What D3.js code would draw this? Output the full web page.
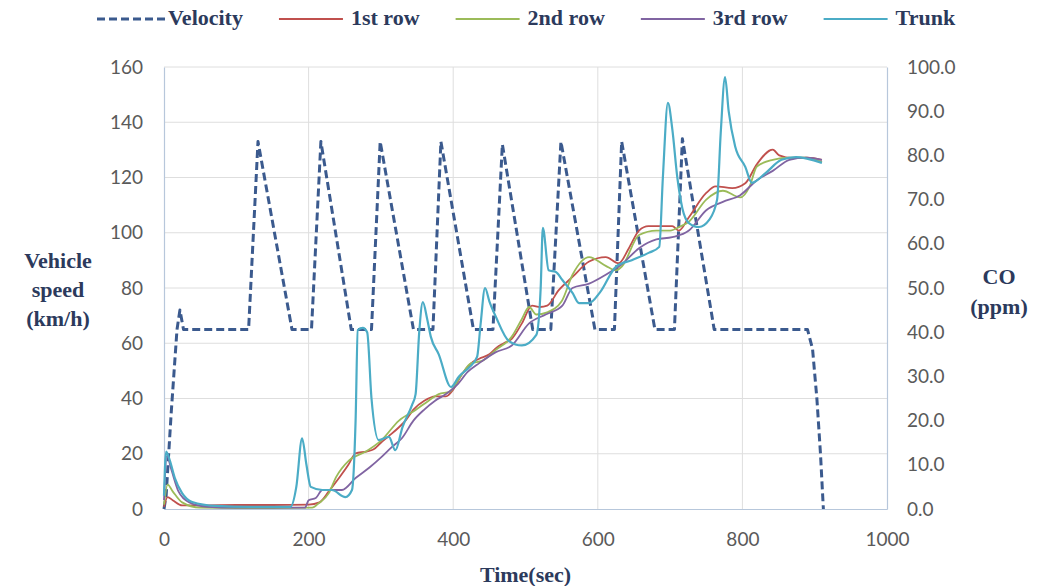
<!DOCTYPE html>
<html>
<head>
<meta charset="utf-8">
<script src="https://cdn.jsdelivr.net/npm/d3@7"></script>
<style>
    body { margin: 0; background: #fff; }
    .tick text { font-family: Lato, "Open Sans", sans-serif; font-size: 19px; fill: #5a5a5a; }
    .title { font-family: "Liberation Serif", "Times New Roman", serif; font-weight: bold; font-size: 22px; fill: #2c3a5c; }
</style>
</head>
<body>
<svg id="chart"></svg>
<script>
const timeTicks = [0, 200, 400, 600, 800, 1000];
const speedTicks = [0, 20, 40, 60, 80, 100, 120, 140, 160];
const coTicks = [0, 10, 20, 30, 40, 50, 60, 70, 80, 90, 100];

// [time (sec), vehicle speed (km/h)]
const velocity = [
    [0, 0], [3, 5], [10, 35], [18, 65], [22, 72], [27, 65], [117, 65], [130, 133], [177, 65],
    [204, 65], [217, 133], [259, 65], [287, 65], [299, 133], [345, 65], [372, 65], [383, 133],
    [428, 65], [455, 65], [468, 132], [510, 65], [535, 65], [549, 133], [596, 65], [623, 65],
    [633, 133], [679, 65], [706, 65], [717, 134], [761, 65], [890, 65], [897, 58], [903, 40],
    [908, 20], [912, 0]
];

// [time (sec), CO (ppm)]
const row1 = [
    [0, 0.5], [5, 2.7], [12, 2], [25, 0.8], [50, 0.8], [100, 0.9], [150, 0.9], [200, 1], [215, 1.5],
    [228, 4], [242, 7], [255, 10], [265, 12.6], [280, 13], [290, 13.5], [300, 15], [311, 16.5],
    [325, 18.5], [334, 20], [345, 22.5], [360, 24.5], [375, 25.5], [390, 25.5], [400, 27],
    [412, 30.5], [425, 33], [436, 34], [450, 35], [460, 36.5], [470, 37.5], [481, 38.5], [495, 42],
    [509, 46], [520, 45.7], [530, 46], [546, 49.5], [565, 52.5], [588, 56], [611, 57], [629, 55.6],
    [643, 59], [657, 63], [670, 64], [690, 64], [703, 64], [712, 63], [726, 66], [750, 71.5],
    [763, 73], [786, 72.6], [804, 73.7], [820, 78], [842, 81.3], [851, 80], [869, 79.4], [890, 79.5],
    [910, 79]
];

const row2 = [
    [0, 1], [5, 5.5], [12, 4], [25, 1.5], [50, 0.3], [100, 0.2], [150, 0.2], [205, 0.3], [214, 1.3],
    [228, 3.6], [238, 7.2], [256, 11], [279, 13], [301, 15.6], [325, 20], [348, 22.4], [366, 24.5],
    [380, 26], [395, 26.5], [410, 30], [425, 33], [440, 33.5], [459, 36], [481, 39], [495, 43],
    [505, 45.7], [515, 44], [530, 44.5], [550, 47], [565, 53], [588, 57], [611, 55], [625, 54],
    [634, 55], [657, 62], [681, 63], [700, 63], [715, 64], [726, 65], [750, 70], [773, 72],
    [797, 70.5], [810, 73], [820, 77.5], [842, 79], [865, 79.5], [888, 79.5], [910, 78.5]
];

const row3 = [
    [0, 2], [4, 12], [10, 9], [20, 4], [35, 1.5], [60, 0.5], [100, 0.3], [150, 0.3], [195, 0.3],
    [200, 2], [210, 2.5], [219, 4.3], [246, 4.3], [265, 7], [285, 9.5], [301, 11.8], [315, 14],
    [329, 16], [345, 20], [360, 22.5], [375, 24.5], [390, 26], [405, 28], [420, 31], [436, 33],
    [459, 35.5], [481, 37], [505, 42], [528, 44], [551, 46], [565, 50], [588, 51], [611, 53],
    [634, 55.5], [657, 59], [681, 61], [703, 61.5], [726, 63], [750, 67.6], [773, 69.5], [797, 71],
    [820, 74.4], [842, 76.5], [865, 79], [888, 79.5], [910, 79]
];

const trunk = [
    [0, 3], [3, 13], [8, 11], [15, 7], [25, 3.6], [39, 1.6], [72, 0.7], [120, 0.5], [175, 0.5],
    [183, 5], [191, 16], [197, 10], [203, 5], [219, 4.3], [232, 4.3], [251, 2.7], [260, 4.3],
    [265, 20], [268, 40.5], [275, 41], [281, 40], [287, 25], [297, 15.6], [311, 16.3], [320, 13.3],
    [330, 18.6], [343, 23.5], [348, 26], [353, 40], [358, 46.8], [364, 43], [369, 39], [380, 35],
    [397, 27.6], [408, 30], [422, 32], [433, 34.4], [438, 42], [444, 50], [450, 47], [459, 43.5],
    [477, 38], [495, 37], [515, 39.4], [521, 50], [524, 63.6], [532, 54], [542, 53.6], [551, 51.8],
    [565, 48.9], [574, 46.6], [588, 46.6], [603, 49], [625, 54.8], [647, 56.3], [671, 58],
    [685, 59.3], [690, 75], [697, 91.9], [703, 86], [710, 75], [717, 68], [726, 64.7], [740, 63.8],
    [754, 65.4], [765, 70], [770, 85], [776, 97.7], [781, 90], [790, 82], [804, 77.4], [813, 73.8],
    [832, 76], [854, 79], [874, 79.6], [910, 78.3]
];

const coSeries = [
    { name: "1st row", color: "#c0504d", values: row1 },
    { name: "2nd row", color: "#9bbb59", values: row2 },
    { name: "3rd row", color: "#8064a2", values: row3 },
    { name: "Trunk", color: "#4bacc6", values: trunk }
];

class DualAxisChart {

    constructor(_config) {
        this.config = {
            parentElement: _config.parentElement,
            containerWidth: 1046,
            containerHeight: 586,
            margin: { top: 67, right: 159, bottom: 77, left: 164 },
            velocityColor: "#3b5a8e",
            gridColor: "#dedede",
            axisColor: "#b7c7db"
        };
        this.initVis();
    }

    initVis() {
        const cfg = this.config;
        this.width = cfg.containerWidth - cfg.margin.left - cfg.margin.right;
        this.height = cfg.containerHeight - cfg.margin.top - cfg.margin.bottom;

        this.svg = d3.select(cfg.parentElement)
            .attr("width", cfg.containerWidth)
            .attr("height", cfg.containerHeight);

        this.chart = this.svg.append("g")
            .attr("transform", `translate(${cfg.margin.left}, ${cfg.margin.top})`);

        this.xScale = d3.scaleLinear().domain([0, 1000]).range([0, this.width]);
        this.ySpeed = d3.scaleLinear().domain([0, 160]).range([this.height, 0]);
        this.yCO = d3.scaleLinear().domain([0, 100]).range([this.height, 0]);

        this.renderVis();
    }

    renderVis() {
        const cfg = this.config;

        // grid
        this.chart.append("g")
            .selectAll("line")
            .data(speedTicks.slice(1))
            .join("line")
            .attr("x1", 0)
            .attr("x2", this.width)
            .attr("y1", (d) => this.ySpeed(d))
            .attr("y2", (d) => this.ySpeed(d))
            .attr("stroke", cfg.gridColor);

        this.chart.append("g")
            .selectAll("line")
            .data(timeTicks.slice(1, -1))
            .join("line")
            .attr("x1", (d) => this.xScale(d))
            .attr("x2", (d) => this.xScale(d))
            .attr("y1", 0)
            .attr("y2", this.height)
            .attr("stroke", cfg.gridColor);

        // axes
        const leftAxis = this.chart.append("g")
            .call(d3.axisLeft(this.ySpeed).tickValues(speedTicks).tickSize(0).tickPadding(21));
        const rightAxis = this.chart.append("g")
            .attr("transform", `translate(${this.width}, 0)`)
            .call(d3.axisRight(this.yCO).tickValues(coTicks).tickSize(0).tickPadding(20).tickFormat(d3.format(".1f")));
        const bottomAxis = this.chart.append("g")
            .attr("transform", `translate(0, ${this.height})`)
            .call(d3.axisBottom(this.xScale).tickValues(timeTicks).tickSize(0).tickPadding(24).tickFormat(d3.format("d")));

        [leftAxis, rightAxis, bottomAxis].forEach((axis) => {
            axis.select(".domain").attr("stroke", cfg.axisColor).attr("stroke-width", 1.2);
        });

        // velocity
        const speedLine = d3.line()
            .x((d) => this.xScale(d[0]))
            .y((d) => this.ySpeed(d[1]));

        this.chart.append("path")
            .datum(velocity)
            .attr("d", speedLine)
            .attr("fill", "none")
            .attr("stroke", cfg.velocityColor)
            .attr("stroke-width", 3)
            .attr("stroke-dasharray", "8 4")
            .attr("stroke-linejoin", "round");

        // CO series
        const coLine = d3.line()
            .x((d) => this.xScale(d[0]))
            .y((d) => this.yCO(d[1]))
            .curve(d3.curveMonotoneX);

        this.chart.selectAll(".co-line")
            .data(coSeries)
            .join("path")
            .attr("class", "co-line")
            .attr("d", (d) => coLine(d.values))
            .attr("fill", "none")
            .attr("stroke", (d) => d.color)
            .attr("stroke-width", (d) => d.name === "Trunk" ? 2.2 : 1.8)
            .attr("stroke-linejoin", "round");

        // titles
        const leftTitle = this.svg.append("text")
            .attr("class", "title")
            .attr("text-anchor", "middle");
        ["Vehicle", "speed", "(km/h)"].forEach((t, i) => {
            leftTitle.append("tspan").attr("x", 58).attr("y", 268 + i * 29).text(t);
        });

        const rightTitle = this.svg.append("text")
            .attr("class", "title")
            .attr("text-anchor", "middle");
        ["CO", "(ppm)"].forEach((t, i) => {
            rightTitle.append("tspan").attr("x", 999).attr("y", 284 + i * 30).text(t);
        });

        this.svg.append("text")
            .attr("class", "title")
            .attr("text-anchor", "middle")
            .attr("x", cfg.margin.left + this.xScale(500))
            .attr("y", 582)
            .text("Time(sec)");

        this.renderLegend();
    }

    renderLegend() {
        const items = [
            { name: "Velocity", color: this.config.velocityColor, dash: "8 4", width: 3, len: 68, gap: 3 }
        ].concat(coSeries.map((s) => ({ name: s.name, color: s.color, dash: null, width: 2, len: 64, gap: 8 })));

        const legend = this.svg.append("g");
        let x = 97;
        items.forEach((item) => {
            legend.append("line")
                .attr("x1", x)
                .attr("x2", x + item.len)
                .attr("y1", 19)
                .attr("y2", 19)
                .attr("stroke", item.color)
                .attr("stroke-width", item.width)
                .attr("stroke-dasharray", item.dash);
            x += item.len + item.gap;
            const label = legend.append("text")
                .attr("class", "title")
                .attr("x", x)
                .attr("y", 25)
                .text(item.name);
            x += label.node().getComputedTextLength() + 36;
        });
    }
}

new DualAxisChart({ parentElement: "#chart" });
</script>
</body>
</html>
